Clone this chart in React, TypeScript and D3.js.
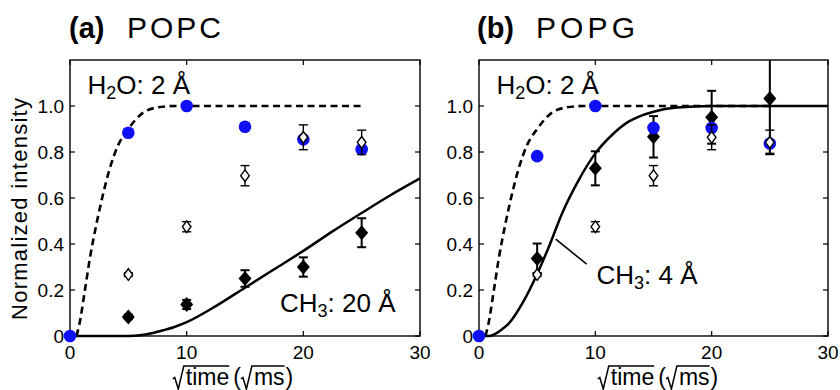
import { useRef, useEffect } from "react";
import * as d3 from "d3";

// tick values
const xTicks = [0, 10, 20, 30];
const yTicks = [0, 0.2, 0.4, 0.6, 0.8, 1.0];

// measurement times (sqrt ms)
const waterTimes = [0, 5, 10, 15, 20, 25];
const diamondTimes = [5, 10, 15, 20, 25];

// (a) POPC
const popcWater = [0, 0.884, 1.0, 0.91, 0.855, 0.812];
const popcMethyl = [0.083, 0.137, 0.25, 0.3, 0.449];
const popcMethylErr = [0.01, 0.02, 0.036, 0.042, 0.063];
const popcOpen = [0.267, 0.475, 0.697, 0.864, 0.842];
const popcOpenErr = [0.008, 0.022, 0.044, 0.054, 0.053];

// (b) POPG
const popgWater = [0, 0.782, 1.0, 0.905, 0.905, 0.837];
const popgMethyl = [0.337, 0.729, 0.866, 0.951, 1.033];
const popgMethylErr = [0.065, 0.074, 0.09, 0.115, 0.24];
const popgOpen = [0.267, 0.475, 0.697, 0.864, 0.842];
const popgOpenErr = [0.008, 0.022, 0.044, 0.054, 0.053];

// simulated curves: [sqrt time, intensity]
const waterCurve: [number, number][] = [
  [0.55, 0], [0.8, 0.05], [1.28, 0.2], [1.71, 0.34], [2.28, 0.49], [2.85, 0.62],
  [3.42, 0.73], [4.13, 0.83], [5, 0.9], [6, 0.96], [7.4, 0.993], [9, 1], [25, 1],
];
const popcMethylCurve: [number, number][] = [
  [0, 0], [5, 0], [6, 0.003], [7, 0.012], [8, 0.025], [9, 0.04], [10, 0.06],
  [12.5, 0.13], [15, 0.21], [17.5, 0.29], [20, 0.37], [22.5, 0.455], [25, 0.535],
  [27.5, 0.613], [30, 0.685],
];
const popgMethylCurve: [number, number][] = [
  [0, 0], [0.83, 0], [2, 0.03], [2.55, 0.054], [3.7, 0.14], [5, 0.27], [6, 0.387],
  [7.14, 0.533], [8.57, 0.678], [10, 0.794], [11.43, 0.874], [12.86, 0.932],
  [13.7, 0.953], [15, 0.975], [17, 0.993], [20, 1], [30, 1],
];

const FONT = "'Liberation Sans', Arial, Helvetica, sans-serif";
const BLUE = "#0f0ff8";

const panels = [
  {
    tag: "(a)", name: "POPC", left: 70, right: 420, titleX: 69, nameX: 127, nameW: 94,
    water: popcWater, methyl: popcMethyl, methylErr: popcMethylErr,
    open: popcOpen, openErr: popcOpenErr, curve: popcMethylCurve,
    ch3: "20", ch3At: [18.0, 0.104], leader: null, xLabelCx: 233,
  },
  {
    tag: "(b)", name: "POPG", left: 479, right: 828, titleX: 477, nameX: 536, nameW: 99,
    water: popgWater, methyl: popgMethyl, methylErr: popgMethylErr,
    open: popgOpen, openErr: popgOpenErr, curve: popgMethylCurve,
    ch3: "4", ch3At: [10.1, 0.228], leader: [[6.6, 0.421], [9.26, 0.312]], xLabelCx: 658,
  },
];

const App = () => {
  const svgRef = useRef<SVGSVGElement>(null);

  useEffect(() => {
    const svg = d3.select(svgRef.current);
    svg.selectAll("*").remove();
    const top = 60;
    const bottom = 336;
    const yMax = 1.2;

    panels.forEach((p) => {
      const x = d3.scaleLinear().domain([0, 30]).range([p.left, p.right]);
      const y = d3.scaleLinear().domain([0, yMax]).range([bottom, top]);
      const g = svg.append("g").attr("font-family", FONT);

      // title
      g.append("text").attr("x", p.titleX).attr("y", 38)
        .attr("font-size", 29).attr("font-weight", "bold").text(p.tag);
      g.append("text").attr("x", p.nameX).attr("y", 38)
        .attr("font-size", 30).attr("textLength", p.nameW)
        .attr("lengthAdjust", "spacing").text(p.name);

      // curves
      const line = d3.line<[number, number]>()
        .x((d) => x(d[0])).y((d) => y(d[1]))
        .curve(d3.curveMonotoneX);
      g.append("path").attr("d", line(waterCurve)).attr("fill", "none")
        .attr("stroke", "#000").attr("stroke-width", 2.6)
        .attr("stroke-dasharray", "7,4.5");
      g.append("path").attr("d", line(p.curve)).attr("fill", "none")
        .attr("stroke", "#000").attr("stroke-width", 2.5);

      // frame
      g.append("rect").attr("x", p.left).attr("y", top)
        .attr("width", p.right - p.left).attr("height", bottom - top)
        .attr("fill", "none").attr("stroke", "#000").attr("stroke-width", 1.4);

      // inner ticks
      xTicks.forEach((t) => {
        g.append("line").attr("x1", x(t)).attr("x2", x(t)).attr("y1", bottom).attr("y2", bottom - 5)
          .attr("stroke", "#000").attr("stroke-width", 1.2);
        g.append("line").attr("x1", x(t)).attr("x2", x(t)).attr("y1", top).attr("y2", top + 5)
          .attr("stroke", "#000").attr("stroke-width", 1.2);
        g.append("text").attr("x", x(t)).attr("y", 359).attr("text-anchor", "middle")
          .attr("font-size", 19).text(String(t));
      });
      yTicks.forEach((t) => {
        g.append("line").attr("x1", p.left).attr("x2", p.left + 5).attr("y1", y(t)).attr("y2", y(t))
          .attr("stroke", "#000").attr("stroke-width", 1.2);
        g.append("line").attr("x1", p.right).attr("x2", p.right - 5).attr("y1", y(t)).attr("y2", y(t))
          .attr("stroke", "#000").attr("stroke-width", 1.2);
        g.append("text").attr("x", p.left - 6).attr("y", y(t) + 6.5).attr("text-anchor", "end")
          .attr("font-size", 19).text(t === 0 ? "0" : t.toFixed(1));
      });

      const errBar = (cx: number, lo: number, hi: number, cap: number, w: number) => {
        const hiC = Math.min(hi, yMax);
        g.append("line").attr("x1", cx).attr("x2", cx).attr("y1", y(lo)).attr("y2", y(hiC))
          .attr("stroke", "#000").attr("stroke-width", w);
        g.append("line").attr("x1", cx - cap).attr("x2", cx + cap).attr("y1", y(lo)).attr("y2", y(lo))
          .attr("stroke", "#000").attr("stroke-width", w);
        if (hi <= yMax) {
          g.append("line").attr("x1", cx - cap).attr("x2", cx + cap).attr("y1", y(hi)).attr("y2", y(hi))
            .attr("stroke", "#000").attr("stroke-width", w);
        }
      };
      const diamond = (cx: number, cy: number, hw: number, hh: number) =>
        `M${cx},${cy - hh}L${cx + hw},${cy}L${cx},${cy + hh}L${cx - hw},${cy}Z`;

      // filled diamonds
      diamondTimes.forEach((t, i) => {
        const v = p.methyl[i];
        const e = p.methylErr[i];
        errBar(x(t), v - e, v + e, 4.5, 2);
        g.append("path").attr("d", diamond(x(t), y(v), 6.5, 7.5)).attr("fill", "#000");
      });

      // water points
      waterTimes.forEach((t, i) => {
        g.append("circle").attr("cx", x(t)).attr("cy", y(p.water[i])).attr("r", 6.3)
          .attr("fill", BLUE);
      });

      // open diamonds
      diamondTimes.forEach((t, i) => {
        const v = p.open[i];
        const e = p.openErr[i];
        errBar(x(t), v - e, v + e, 4.5, 1.4);
        g.append("path").attr("d", diamond(x(t), y(v), 4.3, 5.8))
          .attr("fill", "#fff").attr("stroke", "#000").attr("stroke-width", 1.4);
      });

      // annotations
      const h2o = g.append("text").attr("x", x(1.5)).attr("y", y(1.052))
        .attr("font-size", 26);
      h2o.append("tspan").text("H");
      h2o.append("tspan").attr("font-size", 18).attr("dy", 5).text("2");
      h2o.append("tspan").attr("dy", -5).text("O: 2 Å");

      const ch3 = g.append("text").attr("x", x(p.ch3At[0])).attr("y", y(p.ch3At[1]))
        .attr("font-size", 26);
      ch3.append("tspan").text("CH");
      ch3.append("tspan").attr("font-size", 18).attr("dy", 5).text("3");
      ch3.append("tspan").attr("dy", -5).text(`: ${p.ch3} Å`);

      if (p.leader) {
        g.append("line")
          .attr("x1", x(p.leader[0][0])).attr("y1", y(p.leader[0][1]))
          .attr("x2", x(p.leader[1][0])).attr("y2", y(p.leader[1][1]))
          .attr("stroke", "#000").attr("stroke-width", 1.6);
      }

      // x label: sqrt time (sqrt ms)
      const lab = g.append("g");
      const base = 385;
      const fs = 23;
      let cur = 0;
      const radical = (x0: number, w: number) => {
        lab.append("path")
          .attr("d", `M${x0},${base - 6}L${x0 + 2},${base - 7.5}L${x0 + 5.5},${base + 4}L${x0 + 11},${base - 19}H${x0 + 13 + w}`)
          .attr("fill", "none").attr("stroke", "#000").attr("stroke-width", 1.5);
      };
      const word = (s: string) => {
        const t = lab.append("text").attr("x", cur).attr("y", base).attr("font-size", fs).text(s);
        const w = (t.node() as SVGTextElement).getComputedTextLength();
        cur += w;
        return w;
      };
      const r1 = cur;
      cur += 13;
      const wTime = word("time");
      radical(r1, wTime);
      cur += 4;
      word("(");
      const r2 = cur;
      cur += 13;
      const wMs = word("ms");
      radical(r2, wMs);
      cur += 1;
      word(")");
      lab.attr("transform", `translate(${p.xLabelCx - cur / 2},0)`);
    });

    // y label
    svg.append("text")
      .attr("transform", "translate(27,209) rotate(-90)")
      .attr("text-anchor", "middle")
      .attr("font-family", FONT)
      .attr("font-size", 22)
      .attr("textLength", 222)
      .attr("lengthAdjust", "spacing")
      .text("Normalized intensity");
  }, []);

  return (
    <svg
      ref={svgRef}
      width={840}
      height={390}
      style={{ position: "absolute", left: 0, top: 0, background: "#fff" }}
    />
  );
};

export default App;
